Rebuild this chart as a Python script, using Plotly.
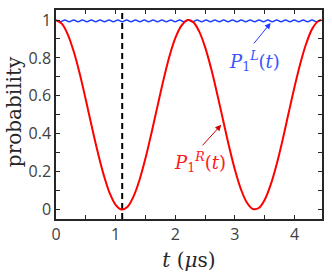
import plotly.graph_objects as go

# --- data ---
t_red = [0.0, 0.1, 0.2, 0.3, 0.4, 0.5, 0.6, 0.7, 0.8, 0.9, 1.0, 1.1, 1.2, 1.3, 1.4,
         1.5, 1.6, 1.7, 1.8, 1.9, 2.0, 2.1, 2.2, 2.3, 2.4, 2.5, 2.6, 2.7, 2.8, 2.9,
         3.0, 3.1, 3.2, 3.3, 3.4, 3.5, 3.6, 3.7, 3.8, 3.9, 4.0, 4.1, 4.2, 4.3, 4.4, 4.45]
p_right = [1.0, 0.980, 0.922, 0.831, 0.714, 0.579, 0.438, 0.303, 0.183, 0.087, 0.025,
           0.000, 0.015, 0.069, 0.156, 0.270, 0.403, 0.543, 0.681, 0.806, 0.904, 0.969,
           0.999, 0.989, 0.940, 0.857, 0.745, 0.614, 0.474, 0.335, 0.210, 0.108, 0.037,
           0.003, 0.008, 0.052, 0.131, 0.239, 0.368, 0.509, 0.648, 0.775, 0.880, 0.956,
           0.995, 1.0]

t_blue = [0.0, 0.074, 0.148, 0.222, 0.296, 0.370, 0.444, 0.518, 0.592, 0.666, 0.740,
          0.814, 0.888, 0.962, 1.036, 1.110, 1.184, 1.258, 1.332, 1.406, 1.480, 1.554,
          1.628, 1.702, 1.776, 1.850, 1.924, 1.998, 2.072, 2.146, 2.220, 2.294, 2.368,
          2.442, 2.516, 2.590, 2.664, 2.738, 2.812, 2.886, 2.960, 3.034, 3.108, 3.182,
          3.256, 3.330, 3.404, 3.478, 3.552, 3.626, 3.700, 3.774, 3.848, 3.922, 3.996,
          4.070, 4.144, 4.218, 4.292, 4.366, 4.440]
p_left = [1.0, 0.991, 1.0, 0.991, 1.0, 0.991, 1.0, 0.991, 1.0, 0.991, 1.0,
          0.991, 1.0, 0.991, 1.0, 0.991, 1.0, 0.991, 1.0, 0.991, 1.0, 0.991,
          1.0, 0.991, 1.0, 0.991, 1.0, 0.991, 1.0, 0.991, 1.0, 0.991, 1.0,
          0.991, 1.0, 0.991, 1.0, 0.991, 1.0, 0.991, 1.0, 0.991, 1.0, 0.991,
          1.0, 0.991, 1.0, 0.991, 1.0, 0.991, 1.0, 0.991, 1.0, 0.991, 1.0,
          0.991, 1.0, 0.991, 1.0, 0.991, 1.0]

t_marker = 1.11
x_tickvals = [0, 1, 2, 3, 4]
x_ticktext = ["0", "1", "2", "3", "4"]
y_tickvals = [0, 0.2, 0.4, 0.6, 0.8, 1.0]
y_ticktext = ["0", "0.2", "0.4", "0.6", "0.8", "1"]

x_range = [0, 4.46]
y_range = [-0.05, 1.053]

fig = go.Figure()
fig.add_trace(go.Scatter(x=[t_marker, t_marker], y=y_range, mode="lines",
                         line=dict(color="black", width=2, dash="6px,4px"),
                         hoverinfo="skip"))
fig.add_trace(go.Scatter(x=t_blue, y=p_left, mode="lines",
                         line=dict(color="#1f3dff", width=1.5, shape="spline")))
fig.add_trace(go.Scatter(x=t_red, y=p_right, mode="lines",
                         line=dict(color="#ff0000", width=2, shape="spline")))

serif = "DejaVu Serif"
axis_common = dict(showline=True, linecolor="#262626", linewidth=1.5, mirror="ticks",
                   ticks="inside", ticklen=4, tickwidth=1.2, tickcolor="#262626",
                   showgrid=False, zeroline=False, automargin=False,
                   tickfont=dict(family="Open Sans", size=16, color="#404040"))

fig.update_layout(
    width=332, height=272,
    margin=dict(l=56, r=10, t=10, b=53),
    paper_bgcolor="white", plot_bgcolor="white",
    showlegend=False,
    xaxis=dict(range=x_range, tickvals=x_tickvals, ticktext=x_ticktext,
               minor=dict(dtick=0.5, tick0=0, ticks="inside", ticklen=4, tickwidth=1.2,
                          tickcolor="#262626", showgrid=False),
               title=dict(text="<i>t</i> (<i>μ</i>s)", font=dict(family=serif, size=20, color="#262626")),
               **axis_common),
    yaxis=dict(range=y_range, tickvals=y_tickvals, ticktext=y_ticktext,
               minor=dict(dtick=0.1, tick0=0, ticks="inside", ticklen=4, tickwidth=1.2,
                          tickcolor="#262626", showgrid=False),
               **axis_common),
)

# y-axis title as a rotated annotation for exact placement
fig.add_annotation(text="probability", xref="paper", yref="paper", x=-0.155, y=0.515,
                   xanchor="center", yanchor="middle", textangle=-90, showarrow=False,
                   font=dict(family=serif, size=20, color="#262626"))

# arrows
fig.add_annotation(x=3.60, y=0.985, ax=-18, ay=22, text="", showarrow=True,
                   arrowhead=2, arrowsize=1.2, arrowwidth=1, arrowcolor="#1f3dff",
                   xref="x", yref="y", axref="pixel", ayref="pixel")
fig.add_annotation(x=2.77, y=0.447, ax=-20, ay=22, text="", showarrow=True,
                   arrowhead=2, arrowsize=1.2, arrowwidth=1, arrowcolor="#cc0000",
                   xref="x", yref="y", axref="pixel", ayref="pixel")
# labels
fig.add_annotation(x=3.336, y=0.784, showarrow=False,
                   text="<i>P</i><sub>1</sub><sup><i>L</i></sup>(<i>t</i>)",
                   font=dict(family=serif, size=18, color="#3a55ff"))
fig.add_annotation(x=2.41, y=0.251, showarrow=False,
                   text="<i>P</i><sub>1</sub><sup><i>R</i></sup>(<i>t</i>)",
                   font=dict(family=serif, size=18, color="#ff1a1a"))

# remove the default 8px page margin so the 332x272 figure fills the window
fig.write_html("out.html", config={"displayModeBar": False},
               post_script="document.body.style.margin='0px';")
